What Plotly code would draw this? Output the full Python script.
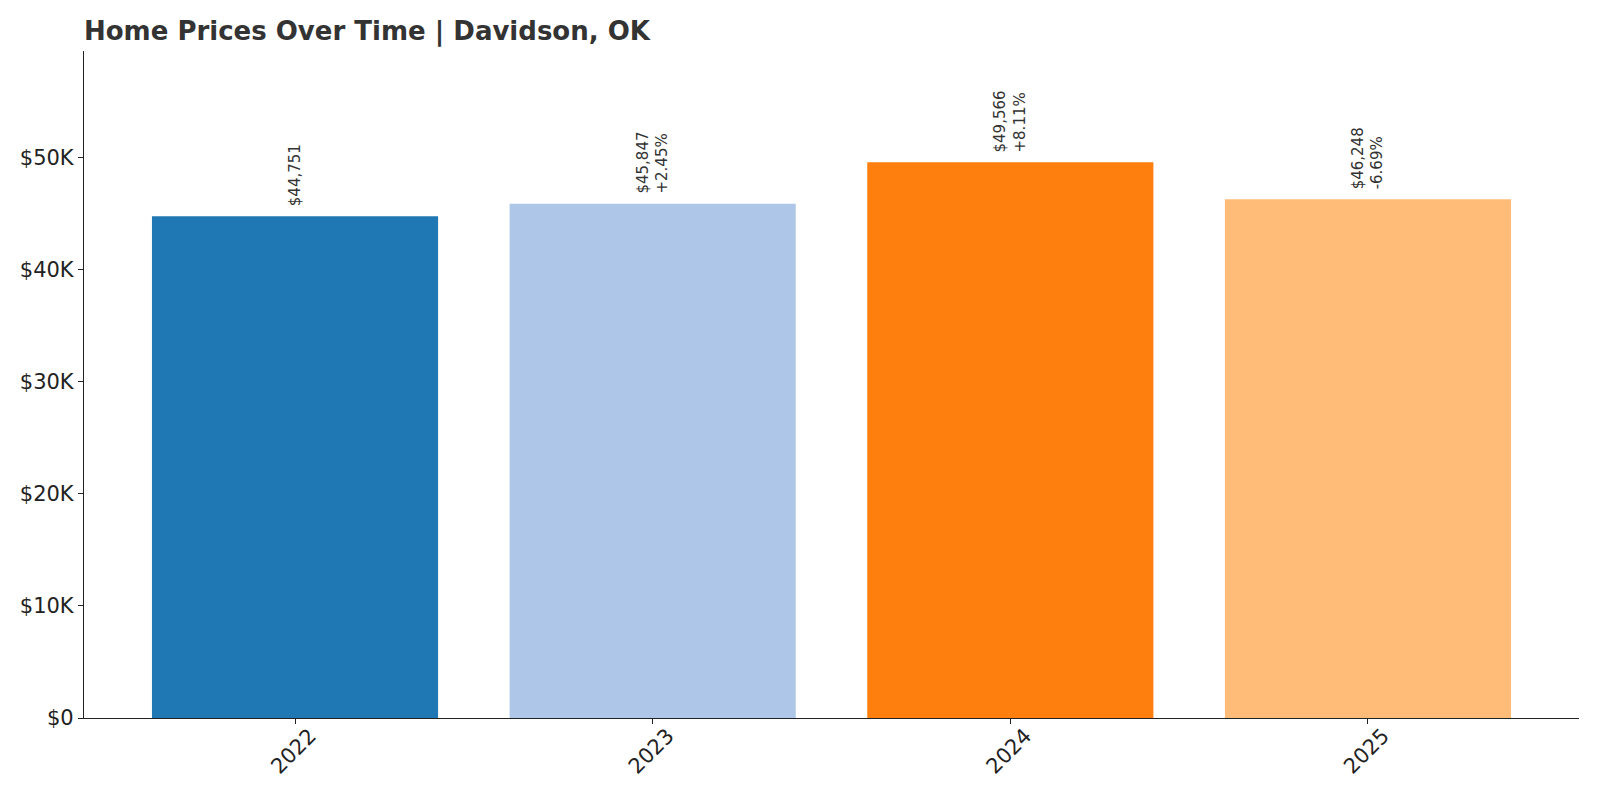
import plotly.graph_objects as go

years = ["2022", "2023", "2024", "2025"]
prices = [44751, 45847, 49566, 46248]
changes = [None, "+2.45%", "+8.11%", "-6.69%"]
colors = ["#1f77b4", "#aec7e8", "#ff7f0e", "#ffbb78"]
ytick_vals = [0, 10000, 20000, 30000, 40000, 50000]
ytick_text = ["$0", "$10K", "$20K", "$30K", "$40K", "$50K"]

x_idx = list(range(len(years)))

fig = go.Figure()
fig.add_trace(go.Bar(
    x=x_idx, y=prices, width=0.8,
    marker=dict(color=colors, line=dict(width=0)),
    hoverinfo="skip",
))

for i, (p, c) in enumerate(zip(prices, changes)):
    txt = f"${p:,}" if c is None else f"${p:,}<br>{c}"
    fig.add_annotation(
        x=i, y=p, xref="x", yref="y", text=txt, textangle=-90,
        showarrow=False, xanchor="center", yanchor="bottom", yshift=8,
        align="left", font=dict(family="DejaVu Sans", size=15, color="#333333"),
    )

fig.update_layout(
    width=1600, height=800,
    paper_bgcolor="white", plot_bgcolor="white",
    margin=dict(l=76, r=29, t=43, b=90, autoexpand=False),
    showlegend=False,
    bargap=0.2,
    title=dict(
        text="<b>Home Prices Over Time | Davidson, OK</b>",
        x=76 / 1600, xref="container", xanchor="left",
        y=1 - 23 / 800, yref="container", yanchor="middle",
        font=dict(family="DejaVu Sans", size=26, color="#333333"),
    ),
    font=dict(family="DejaVu Sans", color="#222222"),
)

fig.update_xaxes(
    range=[-0.59, 3.59], tickmode="array", tickvals=x_idx, ticktext=years,
    tickangle=-45, ticklabelshift=15, ticklabelstandoff=-9,
    showline=True, linecolor="#222222", linewidth=1.3, mirror=False,
    ticks="outside", ticklen=5, tickcolor="#222222", tickwidth=1,
    showgrid=False, zeroline=False, automargin=False,
    tickfont=dict(family="DejaVu Sans", size=21, color="#222222"),
)
fig.update_yaxes(
    range=[0, 49566 * 1.2], tickmode="array", tickvals=ytick_vals, ticktext=ytick_text,
    showline=True, linecolor="#222222", linewidth=1.3,
    ticks="outside", ticklen=5, tickcolor="#222222", tickwidth=1,
    showgrid=False, zeroline=False, automargin=False,
    tickfont=dict(family="DejaVu Sans", size=21, color="#222222"),
)

fig.write_html("out.html")
